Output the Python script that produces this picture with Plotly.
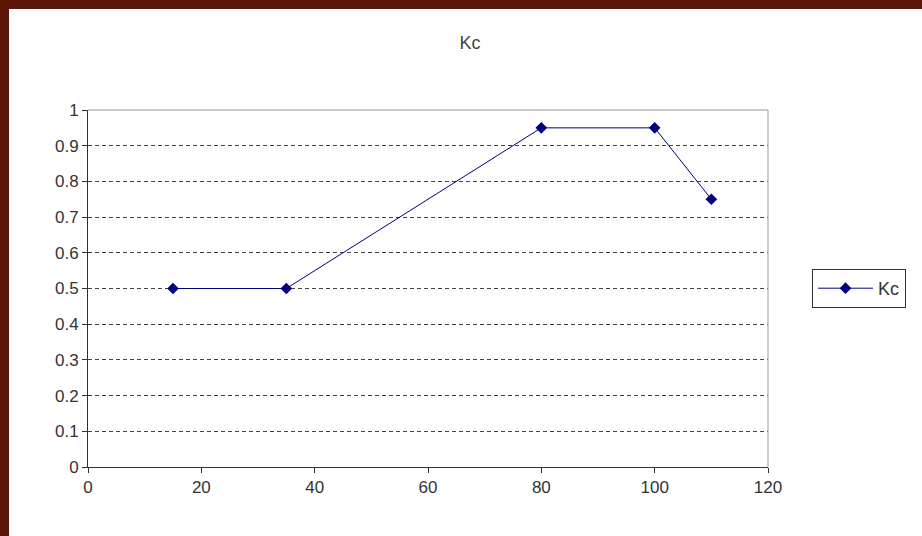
import plotly.graph_objects as go

days = [15, 35, 80, 100, 110]
kc = [0.5, 0.5, 0.95, 0.95, 0.75]
series_name = "Kc"
title_text = "Kc"
x_ticks = [0, 20, 40, 60, 80, 100, 120]
y_ticks = [0, 0.1, 0.2, 0.3, 0.4, 0.5, 0.6, 0.7, 0.8, 0.9, 1]
y_tick_text = ["0", "0.1", "0.2", "0.3", "0.4", "0.5", "0.6", "0.7", "0.8", "0.9", "1"]

W, H = 922, 536
L, R, T, B = 88, 154, 110, 69
pw, ph = W - L - R, H - T - B

def px_x(p):
    return (p - L) / pw

def px_y(p):
    return (H - B - p) / ph

fig = go.Figure()
fig.add_trace(go.Scatter(
    x=days, y=kc, name=series_name, mode="lines+markers",
    line=dict(color="#000080", width=1),
    marker=dict(symbol="diamond", size=9, color="#000080"),
))

font = dict(family="Liberation Sans, Arial, sans-serif", size=17, color="#333333")

fig.update_layout(
    width=W, height=H,
    margin=dict(l=L, r=R, t=T, b=B),
    paper_bgcolor="#5c1608",
    plot_bgcolor="rgba(0,0,0,0)",
    font=font,
    title=dict(text=title_text, x=px_x(470), xref="paper", xanchor="center",
               y=1 - 43 / H, yanchor="middle", font=dict(size=18, color="#444444")),
    showlegend=True,
    legend=dict(x=px_x(812), y=0.5, xanchor="left", yanchor="middle",
                bordercolor="#333333", borderwidth=1, bgcolor="white",
                font=dict(size=18, color="#333333"), itemwidth=55),
    xaxis=dict(range=[0, 120], tickvals=x_ticks,
               showgrid=False, zeroline=False, showline=True, linecolor="#333333",
               linewidth=1, ticks="outside", ticklen=5, tickcolor="#333333",
               tickfont=font),
    yaxis=dict(range=[0, 1], tickvals=y_ticks, ticktext=y_tick_text,
               showgrid=True, gridcolor="#444444", griddash="4px,3px", gridwidth=1,
               zeroline=False, showline=True, linecolor="#333333", linewidth=1,
               ticks="outside", ticklen=5, tickcolor="#333333", tickfont=font),
    shapes=[
        dict(type="rect", xref="paper", yref="paper", layer="below",
             x0=px_x(9), x1=px_x(W + 5), y0=px_y(H + 5), y1=px_y(9),
             fillcolor="white", line=dict(width=0)),
        dict(type="line", xref="paper", yref="paper", x0=0, x1=1, y0=1, y1=1,
             line=dict(color="#999999", width=1)),
        dict(type="line", xref="paper", yref="paper", x0=1, x1=1, y0=0, y1=1,
             line=dict(color="#999999", width=1)),
    ],
)

fig.write_html("out.html", config={"displayModeBar": False},
               post_script="document.body.style.margin='0';")
